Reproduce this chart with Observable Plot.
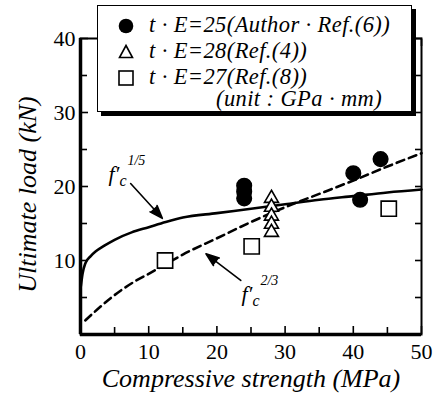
<!DOCTYPE html>
<html><head><meta charset="utf-8">
<script src="https://cdn.jsdelivr.net/npm/d3@7"></script>
<script src="https://cdn.jsdelivr.net/npm/@observablehq/plot@0.6"></script>
<style>
body{margin:0;background:#fff;}
#wrap{position:relative;width:433px;height:403px;font-family:"Liberation Serif","Times New Roman",Times,"DejaVu Serif",serif;}
#legend{position:absolute;left:97px;top:5px;width:313px;height:105px;border:1.5px solid #000;background:#fff;box-shadow:4px 4px 0 #000;font-style:italic;font-size:22.5px;letter-spacing:0.4px;}
#legend .row{position:absolute;left:0;white-space:nowrap;line-height:1;}
#legend svg{position:absolute;}
</style>
</head><body><div id="wrap"></div>
<script>
// Data
const circleX = [24, 24, 24, 40, 41, 44];
const circleY = [20.1, 19.3, 18.4, 21.8, 18.2, 23.7];
const triX = [28, 28, 28, 28, 28];
const triY = [18.4, 17.2, 16.0, 14.9, 13.8];
const squareX = [12.4, 25.1, 45.2];
const squareY = [10.0, 11.9, 17.0];
// f'c^(1/5) curve
const solidX = [0.05, 0.3, 0.7, 1.5, 2.2, 3.5, 5, 7.5, 10, 12.5, 15, 20, 25, 30, 35, 40, 45, 50];
const solidY = [6.5, 8.2, 9.6, 10.6, 11.2, 12.0, 12.8, 13.8, 14.5, 15.2, 15.8, 16.4, 17.0, 17.6, 18.2, 18.7, 19.2, 19.6];
// f'c^(2/3) curve
const dashX = [0.7, 2, 4, 6, 8, 10, 12.5, 15, 20, 25, 30, 35, 40, 45, 50];
const dashY = [1.9, 3.0, 4.6, 6.0, 7.2, 8.2, 9.5, 10.8, 13.0, 15.2, 17.2, 19.0, 20.8, 22.7, 24.5];
const xTicks = [0, 10, 20, 30, 40, 50];
const yTicks = [10, 20, 30, 40];
const xMinor = [5, 15, 25, 35, 45];
const yMinor = [5, 15, 25, 35];
const legendLabels = ["t \u00b7 E=25(Author \u00b7 Ref.(6))", "t \u00b7 E=28(Ref.(4))", "t \u00b7 E=27(Ref.(8))", "(unit : GPa \u00b7 mm)"];
// annotation anchors (data units)
const arrows = [
  {x1: 7.35, y1: 20.4, x2: 12.0, y2: 15.7},
  {x1: 23.5, y1: 7.3, x2: 18.4, y2: 10.9}
];
const notes = [
  {x: 4.1, y: 21.7, exp: "1/5"},
  {x: 23.6, y: 5.5, exp: "2/3"}
];

const circles = circleX.map((x, i) => ({x, y: circleY[i]}));
const tris = triX.map((x, i) => ({x, y: triY[i]}));
const squares = squareX.map((x, i) => ({x, y: squareY[i]}));
const solid = solidX.map((x, i) => ({x, y: solidY[i]}));
const dash = dashX.map((x, i) => ({x, y: dashY[i]}));

const serif = '"Liberation Serif","Times New Roman",Times,"DejaVu Serif",serif';
const chart = Plot.plot({
  width: 433, height: 403,
  marginLeft: 80, marginRight: 12, marginTop: 38, marginBottom: 69,
  style: {fontFamily: serif, background: "#fff", color: "#000"},
  x: {domain: [0, 50]},
  y: {domain: [0, 40]},
  marks: [
    Plot.line(solid, {x: "x", y: "y", stroke: "#000", strokeWidth: 2.6, curve: "monotone-x"}),
    Plot.line(dash, {x: "x", y: "y", stroke: "#000", strokeWidth: 2.6, strokeDasharray: "8,5", curve: "monotone-x"}),
    Plot.arrow(arrows, {x1: "x1", y1: "y1", x2: "x2", y2: "y2", stroke: "#000", fill: "#000", strokeWidth: 1.6, headLength: 13, headAngle: 40, strokeLinejoin: "miter"}),
    Plot.text(notes, {x: "x", y: "y", text: () => "f\u2032", fontSize: 22, fontStyle: "italic", textAnchor: "start", fill: "#000"}),
    Plot.text(notes, {x: "x", y: "y", text: () => "c", fontSize: 16, fontStyle: "italic", textAnchor: "start", dx: 11, dy: 7, fill: "#000"}),
    Plot.text(notes, {x: "x", y: "y", text: "exp", fontSize: 14, fontStyle: "italic", textAnchor: "start", dx: 19, dy: -13, fill: "#000"}),
    Plot.dot(circles, {x: "x", y: "y", r: 7.3, fill: "#000", stroke: "#000"}),
    Plot.dot(tris, {x: "x", y: "y", symbol: "triangle", r: 5.2, fill: "#fff", stroke: "#000", strokeWidth: 1.6}),
    Plot.dot(squares, {x: "x", y: "y", symbol: "square", r: 8.6, fill: "#fff", stroke: "#000", strokeWidth: 1.6}),
    // frame and inward ticks
    Plot.frame({stroke: "#000", strokeWidth: 2}),
    Plot.ruleX([0], {stroke: "#000", strokeWidth: 3.5}),
    Plot.ruleY([0], {stroke: "#000", strokeWidth: 3.5}),
    Plot.axisX(xTicks, {anchor: "bottom", tickSize: -8, text: null, strokeWidth: 1.6}),
    Plot.axisX(xMinor, {anchor: "bottom", tickSize: -7, text: null, strokeWidth: 1.6}),
    Plot.axisX(xTicks.concat(xMinor), {anchor: "top", tickSize: -7, text: null, strokeWidth: 1.6}),
    Plot.axisY(yTicks, {anchor: "left", tickSize: -8, text: null, strokeWidth: 1.6}),
    Plot.axisY(yMinor, {anchor: "left", tickSize: -7, text: null, strokeWidth: 1.6}),
    Plot.axisY(yTicks.concat(yMinor), {anchor: "right", tickSize: -7, text: null, strokeWidth: 1.6}),
    Plot.axisX(xTicks, {anchor: "bottom", tickSize: 0, tickPadding: 9, fontSize: 22, label: null}),
    Plot.axisY(yTicks, {anchor: "left", tickSize: 0, tickPadding: 5, fontSize: 22, label: null}),
    Plot.text(["Compressive strength (MPa)"], {frameAnchor: "bottom", dy: 52, fontSize: 26, fontStyle: "italic", fill: "#000"}),
    Plot.text(["Ultimate load (kN)"], {frameAnchor: "left", textAnchor: "middle", dx: -53, dy: 8, rotate: -90, fontSize: 26, fontStyle: "italic", fill: "#000"})
  ]
});
const wrap = document.getElementById("wrap");
wrap.appendChild(chart);

// Legend overlay
const legend = document.createElement("div");
legend.id = "legend";
const rowsTop = [8, 34, 60, 82];
const sym = [
  '<svg width="18" height="18" style="left:19px;top:11px"><circle cx="9" cy="9" r="7.3" fill="#000"/></svg>',
  '<svg width="18" height="18" style="left:19px;top:37px"><path d="M9,2.5L15.5,14.5H2.5Z" fill="#fff" stroke="#000" stroke-width="1.6"/></svg>',
  '<svg width="18" height="18" style="left:19px;top:63px"><rect x="2" y="2" width="14" height="14" fill="#fff" stroke="#000" stroke-width="1.6"/></svg>'
];
let html = sym.join("");
legendLabels.forEach((t, i) => {
  const left = i === 3 ? 118 : 51;
  html += `<div class="row" style="top:${rowsTop[i]}px;left:${left}px">${t}</div>`;
});
legend.innerHTML = html;
wrap.appendChild(legend);
</script>
</body></html>
